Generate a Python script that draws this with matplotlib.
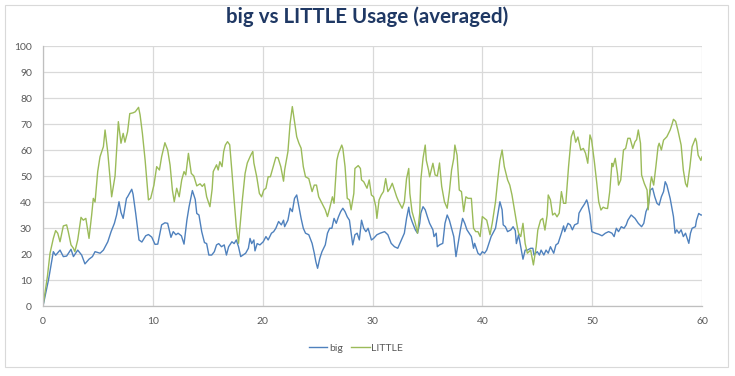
import matplotlib
matplotlib.use("Agg")
import matplotlib.pyplot as plt
from matplotlib.patches import Rectangle

# time (s) and usage (%)
big_t = [0.0, 0.5, 0.94, 1.15, 1.55, 1.85, 2.15, 2.55, 2.77, 3.16, 3.52, 3.82, 4.19, 4.5, 4.74,
         5.2, 5.5, 5.9, 6.2, 6.5, 6.7, 6.92, 7.1, 7.3, 7.6, 7.7, 8.08, 8.2, 8.44, 8.74, 9.0,
         9.35, 9.6, 9.9, 10.2, 10.45, 10.8, 11.1, 11.35, 11.65, 11.86, 12.1, 12.3, 12.6, 12.84,
         13.1, 13.3, 13.6, 13.86, 14.0, 14.2, 14.45, 14.7, 14.9, 15.1, 15.36, 15.6, 15.8, 16.0,
         16.25, 16.5, 16.7, 16.9, 17.2, 17.4, 17.6, 17.8, 18.0, 18.2, 18.45, 18.7, 18.85, 19.0,
         19.2, 19.3, 19.5, 19.75, 20.05, 20.3, 20.5, 20.8, 21.0, 21.2, 21.45, 21.7, 21.9, 22.0,
         22.3, 22.5, 22.7, 22.9, 23.1, 23.3, 23.5, 23.7, 23.9, 24.2, 24.5, 24.7, 24.84, 25.0,
         25.2, 25.4, 25.7, 25.9, 26.1, 26.3, 26.5, 26.7, 26.9, 27.1, 27.3, 27.5, 27.7, 27.9,
         28.2, 28.4, 28.6, 28.8, 29.0, 29.2, 29.4, 29.6, 29.9, 30.1, 30.4, 30.7, 31.1, 31.4,
         31.7, 32.0, 32.3, 32.5, 32.9, 33.1, 33.3, 33.4, 33.6, 33.9, 34.1, 34.3, 34.4, 34.6,
         34.8, 35.0, 35.2, 35.5, 35.6, 35.8, 35.9, 36.1, 36.4, 36.6, 36.8, 37.0, 37.2, 37.4,
         37.6, 37.8, 38.0, 38.2, 38.4, 38.6, 38.8, 39.0, 39.2, 39.3, 39.6, 39.8, 40.0, 40.2,
         40.4, 40.6, 40.8, 41.2, 41.4, 41.6, 41.8, 41.9, 42.1, 42.3, 42.6, 42.8, 43.0, 43.1,
         43.3, 43.5, 43.7, 43.9, 44.1, 44.4, 44.6, 44.7, 45.0, 45.2, 45.35, 45.6, 45.8, 46.0,
         46.2, 46.5, 46.7, 46.9, 47.2, 47.4, 47.5, 47.8, 48.0, 48.2, 48.4, 48.7, 48.8, 49.05,
         49.3, 49.5, 49.6, 49.8, 49.97, 50.3, 50.6, 50.9, 51.2, 51.5, 51.8, 52.0, 52.2, 52.4,
         52.65, 52.9, 53.1, 53.25, 53.55, 53.9, 54.2, 54.5, 54.7, 54.9, 55.1, 55.3, 55.5, 55.7,
         55.9, 56.1, 56.3, 56.5, 56.65, 56.8, 56.95, 57.1, 57.4, 57.55, 57.7, 57.9, 58.1, 58.3,
         58.5, 58.8, 58.95, 59.1, 59.4, 59.5, 59.7, 59.9, 60.0]
big = [0, 10, 20.9, 19.5, 21.5, 19, 19.2, 21.8, 19, 21.5, 19.6, 16.2, 18, 19, 20.9,
       20.3, 21.5, 24.7, 28.6, 31.8, 35, 40.1, 36, 33.7, 41.4, 42, 44.9, 43, 35.6, 25.4, 24.6,
       27, 27.5, 26.5, 23.7, 23.8, 31.2, 32, 31.8, 26.4, 28.6, 27.4, 28, 27, 23.8,
       33, 38.2, 44.4, 41, 35.6, 35, 28.6, 24.4, 24, 19.6, 19.6, 20.9, 23.5, 24,
       22.8, 23.5, 19.6, 22.8, 24.7, 24, 25.4, 22.8, 19, 19.6, 20.3, 22.2, 26, 24,
       25.4, 21.2, 24, 23.5, 24.7, 26.7, 25.4, 28, 28.6, 29.9, 32.5, 31.2, 33, 30.5,
       33, 37.6, 36.3, 41.4, 42.7, 38.2, 33.7, 29.9, 28, 27.4, 24.1, 20.3, 17.1, 14.5,
       18.3, 20.9, 23.5, 28, 29.9, 29.9, 33.7, 31.8, 34.3, 36.3, 37.6, 36.3, 34.3, 33,
       23.5, 27.4, 28, 25.4, 33, 29.9, 28.6, 29.9, 25.4, 26, 27.4, 28, 28.6, 27.4,
       24.1, 22.8, 22.2, 24.1, 28, 33.7, 38, 35, 32.5, 29.3, 28, 31.8, 35.7, 38.2,
       37, 34.3, 31.8, 29.3, 26.7, 28, 22.8, 23.5, 24.1, 31.8, 35, 33, 29.9, 26.7,
       19, 24.1, 29.3, 33.7, 31.8, 29.3, 28, 26.7, 22.2, 24.1, 20.3, 19.6, 20.9, 20.3,
       21.5, 24.1, 26.7, 29.9, 35, 40.1, 37, 31.2, 30.5, 28.6, 29.3, 30.5, 29, 24,
       27.4, 22.8, 18, 21.5, 21.5, 22.2, 22.2, 19.6, 20.9, 19.6, 21.5, 19.6, 21.5, 20.3,
       22.8, 20.3, 23.5, 24.1, 28, 30.8, 28.6, 31.8, 31.2, 29.3, 31.2, 31.8, 35.7, 37.6,
       39.2, 40.8, 39.5, 35, 28.6, 28, 27.6, 27, 28, 28.6, 28, 26.7, 29.9, 28.6,
       30.5, 29.9, 31.2, 33, 35, 33.7, 31.8, 30.5, 31.8, 36.3, 38.2, 44.6, 45.3, 42,
       39.5, 38.8, 42, 44, 47.8, 46.5, 44, 41.4, 34.4, 28, 29.3, 28, 29.3, 26.7,
       28, 24.1, 28, 29.9, 30.5, 33, 35.6, 35, 35]

little_t = [0.0, 0.4, 0.64, 0.94, 1.15, 1.34, 1.55, 1.85, 2.15, 2.3, 2.55, 2.77, 2.9, 3.16, 3.46,
            3.67, 3.9, 4.19, 4.43, 4.58, 4.74, 4.98, 5.19, 5.5, 5.65, 5.9, 6.25, 6.56, 6.86, 7.1,
            7.3, 7.46, 7.7, 7.9, 8.2, 8.4, 8.7, 8.84, 9.05, 9.3, 9.6, 9.8, 10.1, 10.35, 10.6,
            10.8, 11.1, 11.35, 11.57, 11.78, 11.95, 12.17, 12.4, 12.63, 12.84, 13.0, 13.24, 13.5,
            13.73, 14.0, 14.3, 14.5, 14.7, 14.9, 15.2, 15.4, 15.5, 15.8, 15.95, 16.1, 16.3, 16.45,
            16.6, 16.8, 17.0, 17.2, 17.4, 17.6, 17.8, 17.9, 18.15, 18.4, 18.6, 18.85, 19.0, 19.1,
            19.2, 19.46, 19.7, 19.9, 20.1, 20.3, 20.5, 20.7, 21.0, 21.2, 21.4, 21.65, 21.9, 22.0,
            22.3, 22.5, 22.7, 22.9, 23.1, 23.3, 23.5, 23.7, 23.9, 24.2, 24.5, 24.7, 24.9, 25.1,
            25.4, 25.7, 25.9, 26.1, 26.35, 26.5, 26.75, 26.9, 27.2, 27.3, 27.5, 27.7, 27.9, 28.05,
            28.3, 28.4, 28.7, 28.9, 29.0, 29.2, 29.5, 29.7, 29.9, 30.1, 30.3, 30.4, 30.6, 30.8,
            31.0, 31.2, 31.4, 31.6, 31.8, 32.0, 32.2, 32.4, 32.7, 32.9, 33.1, 33.3, 33.4, 33.6,
            33.9, 34.1, 34.3, 34.4, 34.6, 34.8, 34.9, 35.1, 35.2, 35.5, 35.7, 35.9, 36.1, 36.3,
            36.55, 36.8, 37.0, 37.2, 37.4, 37.5, 37.7, 37.9, 38.1, 38.3, 38.5, 38.7, 39.0, 39.2,
            39.4, 39.6, 39.8, 40.0, 40.2, 40.4, 40.6, 40.7, 40.9, 41.2, 41.4, 41.6, 41.8, 42.0,
            42.3, 42.5, 42.7, 43.0, 43.2, 43.3, 43.5, 43.7, 43.9, 44.1, 44.4, 44.65, 44.9, 45.05,
            45.3, 45.5, 45.7, 45.9, 46.0, 46.2, 46.4, 46.6, 46.8, 47.0, 47.2, 47.4, 47.6, 47.85,
            48.1, 48.3, 48.5, 48.7, 48.96, 49.2, 49.4, 49.6, 49.8, 49.95, 50.2, 50.4, 50.6, 50.8,
            51.0, 51.2, 51.4, 51.6, 51.8, 51.9, 52.1, 52.3, 52.4, 52.6, 52.85, 53.05, 53.25, 53.45,
            53.7, 53.9, 54.05, 54.2, 54.4, 54.5, 54.75, 55.0, 55.1, 55.3, 55.4, 55.6, 55.8, 56.0,
            56.1, 56.3, 56.5, 56.8, 57.1, 57.25, 57.4, 57.6, 57.8, 58.1, 58.3, 58.5, 58.65, 58.9,
            59.1, 59.4, 59.5, 59.65, 59.9, 60.0]
little = [0, 11.3, 20.3, 26, 29, 28, 24.7, 30.8, 31.2, 28.6, 23.5, 22.2, 20.9, 25.4, 34.1,
          33, 33.7, 26, 35, 41.4, 40, 51.7, 57.4, 61.3, 67.7, 59, 42, 50, 70.9, 62.6,
          66.4, 63, 67, 74, 74.3, 74.7, 76.4, 73.5, 66.4, 56, 40.8, 41.4, 46.5, 53.6, 52.3,
          57.4, 62.8, 60, 54.2, 44.6, 40.1, 45.3, 42, 48.5, 51.7, 50.4, 58.7, 51,
          50, 46.2, 47, 46, 47, 42, 38.2, 45, 51.7, 54.3, 52.3, 55.5, 53.6, 59.4,
          61.9, 63.2, 62, 51.7, 40.8, 30.5, 24.1, 29, 40.8, 51, 55, 57.4, 58.7, 59.4,
          55, 49.7, 43.3, 42, 44.6, 45.3, 49.7, 49.7, 54.2, 57.2, 57, 53.6, 48, 52.3,
          59.4, 70.3, 76.7, 70.9, 65.1, 62.6, 60.7, 53.6, 49.7, 49, 44, 46.5, 46.5, 42,
          39.5, 37, 34.4, 37.6, 42, 39.5, 56, 58.7, 61.9, 60.6, 53.6, 41.4, 40.8, 37,
          43.3, 52.9, 54, 52.9, 48.5, 47.8, 45.3, 48.5, 42.7, 42, 38.2, 33.7, 40.8, 42.7,
          44, 49, 44, 45.3, 47.2, 44.6, 42, 40, 37.6, 40, 49, 52.9, 43.3, 36.3,
          31.8, 28, 35.7, 48.5, 56.8, 61.9, 56, 52.3, 49.7, 54.9, 50.4, 50, 55, 46,
          40.1, 37.6, 44, 52.3, 56.8, 61.9, 58, 44.6, 44, 36.3, 42, 41.4, 41.4, 29.9,
          28.6, 28.6, 26.7, 34.4, 33.7, 33, 29.3, 27.4, 31.8, 40.1, 48.5, 56, 60, 53.6,
          48.5, 46.5, 42.7, 35, 30, 28, 26.7, 31.8, 24, 20.3, 21.5, 15.8, 22.8, 29.2,
          33, 33.7, 29.2, 35, 42.7, 40.8, 35, 35.7, 34.3, 35.7, 44, 39.5, 39.5, 53.6,
          65.1, 67.4, 63, 65, 60, 60.6, 58.7, 54.9, 65.8, 63.8, 55.5, 48, 40, 36.9,
          38, 37.6, 37.5, 44, 54.9, 53.6, 56.8, 51, 46.5, 48.5, 60, 60.6, 64.5, 64.5,
          60.6, 63.2, 64, 67.7, 62.6, 50.4, 47.1, 44.6, 37, 47, 49.7, 46.5, 53.6, 61.3,
          62.6, 60, 63.8, 65.1, 67.7, 69.6, 71.8, 71, 67.7, 61.9, 52.3, 47.1, 45.8, 53.6,
          61.3, 64.5, 63.2, 58, 56, 57.4]

x_ticks = [0, 10, 20, 30, 40, 50, 60]
y_ticks = [0, 10, 20, 30, 40, 50, 60, 70, 80, 90, 100]

plt.rcParams['font.family'] = ['Lato', 'DejaVu Sans']

fig = plt.figure(figsize=(7.35, 3.76), dpi=100)
ax = fig.add_axes([43 / 735, 1 - 306 / 376, 659 / 735, 260 / 376])

ax.plot(big_t, big, color='#4f81bd', lw=1.0, label='big')
ax.plot(little_t, little, color='#9bbb59', lw=1.0, label='LITTLE')

ax.set_xlim(0, 60)
ax.set_ylim(0, 100)
ax.set_xticks(x_ticks)
ax.set_yticks(y_ticks)
ax.grid(True, color='#d9d9d9', lw=0.9)
ax.set_axisbelow(True)
for s in ['top', 'right']:
    ax.spines[s].set_visible(False)
for s in ['left', 'bottom']:
    ax.spines[s].set_color('#bfbfbf')
    ax.spines[s].set_linewidth(0.9)
ax.tick_params(length=0, labelsize=7.5, colors='#595959', pad=8)

fig.text(0.5, 1 - 17 / 376, 'big vs LITTLE Usage (averaged)', ha='center', va='center',
         fontsize=14.8, fontweight='bold', color='#1f3864')

fig.legend(loc='center', bbox_to_anchor=(356 / 735, 1 - 348 / 376), ncol=2, frameon=False,
           fontsize=7.5, handlelength=1.8, handletextpad=0.15, columnspacing=0.8,
           labelcolor='#595959')

fig.patches.append(Rectangle((5 / 735, 1 - 367 / 376), 723 / 735, 362 / 376,
                             transform=fig.transFigure, fill=False,
                             edgecolor='#d9d9d9', lw=0.8))

fig.savefig('out.png', dpi=100)
